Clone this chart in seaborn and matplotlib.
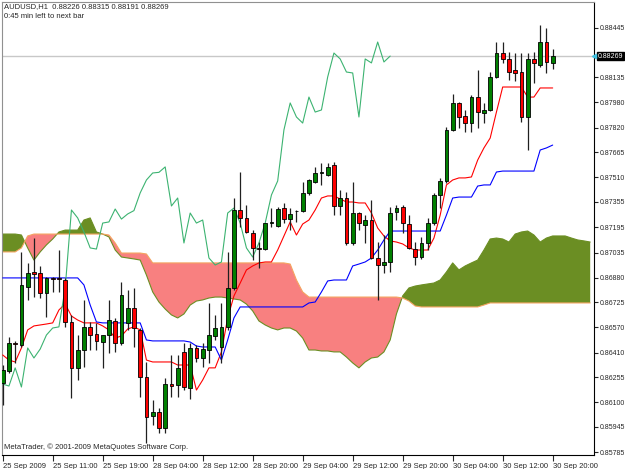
"""
AUDUSD H1 candles with the Ichimoku indicator, MetaTrader style.
Prices are kept in points (1/100000) and converted when drawn.
"""

import matplotlib
matplotlib.use("Agg")
import matplotlib.pyplot as plt
import matplotlib.transforms as mtransforms
import numpy as np
import seaborn as sns

# candles, 25 Sep 2009 03:00 .. 30 Sep 2009 20:00 (points)
opens = [86219, 86295, 86470, 86457, 86821, 86915, 86909, 86783, 86878, 86878,
         86865, 86602, 86314, 86426, 86571, 86526, 86476, 86520, 86608, 86470,
         86596, 86689, 86552, 86257, 86012, 86037, 85937, 86213, 86207, 86414,
         86188, 86439, 86376, 86426, 86514, 86445, 86571, 86815, 87304, 87254,
         87160, 87066, 87059, 87222, 87204, 87316, 87247, 87298, 87298, 87411,
         87479, 87536, 87523, 87586, 87329, 87379, 87097, 87285, 87210, 87241,
         87003, 86959, 86978, 87291, 87323, 87216, 87059, 87009, 87097, 87222,
         87398, 87486, 87806, 87975, 87893, 87849, 88012, 87912, 87931, 88138,
         88288, 88251, 88182, 88169, 87887, 88251, 88213, 88357, 88226]
highs = [86332, 86508, 86483, 87041, 86972, 87128, 86953, 86884, 86884, 87053,
         86878, 86646, 86520, 86740, 86602, 86596, 86520, 86740, 86627, 86852,
         86802, 86815, 86564, 86351, 86113, 86062, 86251, 86395, 86395, 86470,
         86470, 86457, 86470, 86721, 86646, 86721, 87041, 87379, 87542, 87335,
         87178, 87103, 87222, 87316, 87323, 87348, 87316, 87304, 87479, 87500,
         87574, 87599, 87599, 87605, 87429, 87417, 87479, 87291, 87272, 87367,
         87103, 87147, 87323, 87335, 87335, 87272, 87103, 87135, 87254, 87411,
         87505, 87824, 88031, 87981, 87931, 88025, 88182, 87975, 88169, 88357,
         88357, 88295, 88288, 88288, 88288, 88295, 88464, 88445, 88315]
lows = [86081, 86282, 86345, 86445, 86740, 86758, 86752, 86633, 86790, 86790,
        86571, 86125, 86238, 86320, 86426, 86426, 86314, 86407, 86414, 86457,
        86552, 86445, 86131, 85843, 85956, 85906, 85906, 86131, 86131, 86175,
        86119, 86351, 86320, 86345, 86489, 86345, 86552, 86802, 87197, 87160,
        86990, 86941, 87053, 87197, 87197, 87222, 87178, 87229, 87291, 87398,
        87473, 87461, 87518, 87272, 87272, 87085, 87085, 87178, 87097, 86995,
        86740, 86909, 86915, 87241, 87160, 87059, 86959, 86997, 87053, 87210,
        87316, 87473, 87799, 87818, 87793, 87793, 87818, 87849, 87925, 88132,
        88226, 88119, 88113, 87856, 87680, 88100, 88201, 88163, 88191]
closes = [86301, 86470, 86464, 86834, 86909, 86903, 86783, 86878, 86871, 86871,
          86602, 86314, 86426, 86571, 86520, 86483, 86520, 86614, 86470, 86771,
          86689, 86564, 86257, 86006, 86037, 85937, 86213, 86200, 86314, 86194,
          86439, 86376, 86432, 86520, 86564, 86571, 86815, 87304, 87254, 87166,
          87066, 87059, 87222, 87229, 87310, 87247, 87279, 87300, 87411, 87492,
          87536, 87540, 87574, 87329, 87379, 87097, 87285, 87222, 87241, 87003,
          86959, 86978, 87285, 87316, 87222, 87066, 87009, 87097, 87222, 87398,
          87486, 87806, 87975, 87887, 87849, 88012, 87918, 87931, 88138, 88288,
          88251, 88169, 88163, 87887, 88251, 88226, 88357, 88232, 88269]

# Ichimoku lines
tenkan = [86395, 86363, 86351, 86439, 86552, 86577, 86583, 86589, 86596, 86677,
          86715, 86639, 86614, 86596, 86596, 86596, 86577, 86552, 86501, 86514,
          86558, 86571, 86552, 86363, 86351, 86351, 86351, 86351, 86332, 86332,
          86332, 86175, 86238, 86314, 86314, 86414, 86627, 86765, 86846, 86928,
          86953, 86972, 86978, 86978, 87053, 87141, 87229, 87147, 87216, 87241,
          87304, 87379, 87392, 87392, 87373, 87354, 87354, 87348, 87348, 87285,
          87191, 87141, 87110, 87103, 87091, 87066, 87053, 87053, 87053, 87128,
          87272, 87461, 87492, 87505, 87505, 87511, 87617, 87693, 87755, 87918,
          88075, 88075, 88075, 88075, 88012, 88012, 88069, 88069, 88069]
kijun = [86878, 86878, 86878, 86878, 86878, 86878, 86878, 86878, 86878, 86878,
         86878, 86878, 86878, 86834, 86708, 86602, 86596, 86596, 86596, 86596,
         86596, 86596, 86596, 86489, 86483, 86483, 86483, 86483, 86483, 86483,
         86476, 86451, 86445, 86445, 86445, 86363, 86489, 86627, 86696, 86696,
         86696, 86696, 86696, 86696, 86696, 86696, 86696, 86696, 86696, 86721,
         86727, 86790, 86859, 86865, 86865, 86865, 86953, 86965, 86978, 87003,
         87053, 87116, 87172, 87172, 87172, 87172, 87172, 87172, 87172, 87172,
         87172, 87272, 87379, 87385, 87385, 87385, 87454, 87461, 87461, 87542,
         87548, 87548, 87548, 87548, 87548, 87548, 87680, 87693, 87711]
span_a = [87153, 87153, 87153, 87147, 87066, 86990, 87041, 87085, 87122, 87166,
          87178, 87178, 87178, 87241, 87254, 87166, 87153, 87135, 87053, 87009,
          87003, 86997, 86990, 86896, 86790, 86727, 86683, 86646, 86627, 86652,
          86708, 86733, 86740, 86752, 86758, 86758, 86752, 86746, 86740, 86714,
          86671, 86608, 86583, 86564, 86552, 86564, 86564, 86545, 86501, 86426,
          86426, 86420, 86420, 86414, 86414, 86382, 86345, 86314, 86351, 86376,
          86382, 86414, 86489, 86652, 86765, 86815, 86827, 86834, 86840, 86846,
          86865, 86915, 86972, 86928, 86953, 86972, 86990, 87053, 87122, 87128,
          87122, 87103, 87153, 87166, 87172, 87147, 87103, 87128, 87141, 87141,
          87141, 87128, 87116, 87110, 87103]
span_b = [87041, 87041, 87041, 87066, 87141, 87153, 87153, 87153, 87153, 87153,
          87153, 87153, 87153, 87153, 87153, 87153, 87153, 87147, 87097, 87034,
          87034, 87034, 87034, 87028, 86972, 86972, 86972, 86972, 86972, 86972,
          86972, 86972, 86972, 86972, 86972, 86972, 86972, 86972, 86972, 86972,
          86972, 86972, 86972, 86972, 86972, 86972, 86965, 86865, 86790, 86758,
          86758, 86758, 86758, 86758, 86758, 86758, 86758, 86758, 86758, 86758,
          86758, 86758, 86758, 86758, 86752, 86733, 86702, 86696, 86696, 86696,
          86696, 86696, 86696, 86696, 86696, 86696, 86696, 86708, 86721, 86721,
          86721, 86721, 86721, 86721, 86721, 86721, 86721, 86721, 86721, 86721,
          86721, 86721, 86721, 86721, 86721]
chikou_shift = 26

x_labels = ["25 Sep 2009", "25 Sep 11:00", "25 Sep 19:00", "28 Sep 04:00",
            "28 Sep 12:00", "28 Sep 20:00", "29 Sep 04:00", "29 Sep 12:00",
            "29 Sep 20:00", "30 Sep 04:00", "30 Sep 12:00", "30 Sep 20:00"]
y_ticks = [0.88445, 0.88135, 0.87980, 0.87820, 0.87665, 0.87510, 0.87355,
           0.87195, 0.87035, 0.86880, 0.86725, 0.86570, 0.86410, 0.86255,
           0.86100, 0.85945, 0.85785]
last_price = 0.88269
header = "AUDUSD,H1  0.88226 0.88315 0.88191 0.88269"

sns.set_style("white")
plt.rcParams["font.family"] = ["Liberation Sans", "DejaVu Sans"]
FS = 5.5
YFS = 5.0

o = np.array(opens) / 1e5
h = np.array(highs) / 1e5
l = np.array(lows) / 1e5
c = np.array(closes) / 1e5
bars = np.arange(len(c))
a = np.array(span_a) / 1e5
b = np.array(span_b) / 1e5
cx = np.arange(len(a))

fig = plt.figure(figsize=(6.25, 4.69), dpi=100)
ax = fig.add_axes([2 / 625, 14 / 469, 592 / 625, 453 / 469])

# cloud
ax.fill_between(cx, a, b, where=a >= b, interpolate=True, color="#6b8e23", lw=0, zorder=1)
ax.fill_between(cx, a, b, where=a < b, interpolate=True, color="#f88080", lw=0, zorder=1)
sns.lineplot(x=cx, y=a, color="#6b8e23", lw=0.8, ax=ax, zorder=2)
sns.lineplot(x=cx, y=b, color="#f4a460", lw=0.8, ax=ax, zorder=2)

# last price line
ax.axhline(last_price, color="#c8c8c8", lw=1, zorder=1.5)

# tenkan / kijun / chikou
sns.lineplot(x=bars, y=np.array(tenkan) / 1e5, color="#ff0000", lw=0.8, ax=ax, zorder=3)
sns.lineplot(x=bars, y=np.array(kijun) / 1e5, color="#0000ff", lw=0.8, ax=ax, zorder=3)
sns.lineplot(x=bars[:len(c) - chikou_shift], y=c[chikou_shift:], color="#3cb371",
             lw=0.8, ax=ax, zorder=3)

# candles
up = c >= o
body_lo = np.minimum(o, c)
body_h = np.maximum(np.abs(c - o), 0.000025)
ax.vlines(bars, l, h, color="#202020", lw=0.9, zorder=4)
ax.bar(bars, body_h, bottom=body_lo, width=0.62,
       color=np.where(up, "#008000", "#ff0000"), edgecolor="black", lw=0.6, zorder=5)

ax.set_xlim(-0.11, 94.61)
ax.set_ylim(0.857677, 0.88608)

ax.set_xticks(np.arange(0, 8 * len(x_labels), 8))
ax.set_xticklabels(x_labels, ha="left")
ax.yaxis.tick_right()
ax.set_yticks(y_ticks)
ax.set_yticklabels([f"{v:.5f}" for v in y_ticks])
ax.tick_params(axis="x", direction="out", length=4, width=0.8, pad=1.5, labelsize=FS, bottom=True)
ax.tick_params(axis="y", direction="out", length=3, width=0.8, pad=1.5, labelsize=YFS, right=True)
ax.set_xlabel("")
ax.set_ylabel("")
for side in ["right", "bottom"]:
    ax.spines[side].set_color("black")
    ax.spines[side].set_linewidth(0.8)
for side in ["left", "top"]:
    ax.spines[side].set_color("#909090")
    ax.spines[side].set_linewidth(0.8)

# price tag on the axis
trans = mtransforms.blended_transform_factory(ax.transAxes, ax.transData)
ax.text(1.007, last_price, f"{last_price:.5f}", transform=trans, ha="left", va="center",
        fontsize=YFS, color="white", zorder=10, clip_on=False,
        bbox=dict(boxstyle="square,pad=0.12", fc="black", ec="black"))
ax.plot([1.0], [last_price], marker="<", ms=3, color="#40c0e0", transform=trans,
        clip_on=False, zorder=10)

fig.text(4 / 625, 1 - 3 / 469, header, fontsize=FS, va="top", ha="left")
fig.text(4 / 625, 1 - 13 / 469, "0:45 min left to next bar", fontsize=FS, va="top", ha="left")
fig.text(4 / 625, 1 - 447 / 469, "MetaTrader, \u00a9 2001-2009 MetaQuotes Software Corp.",
         fontsize=FS, va="center", ha="left")

fig.savefig("out.png", dpi=100)
